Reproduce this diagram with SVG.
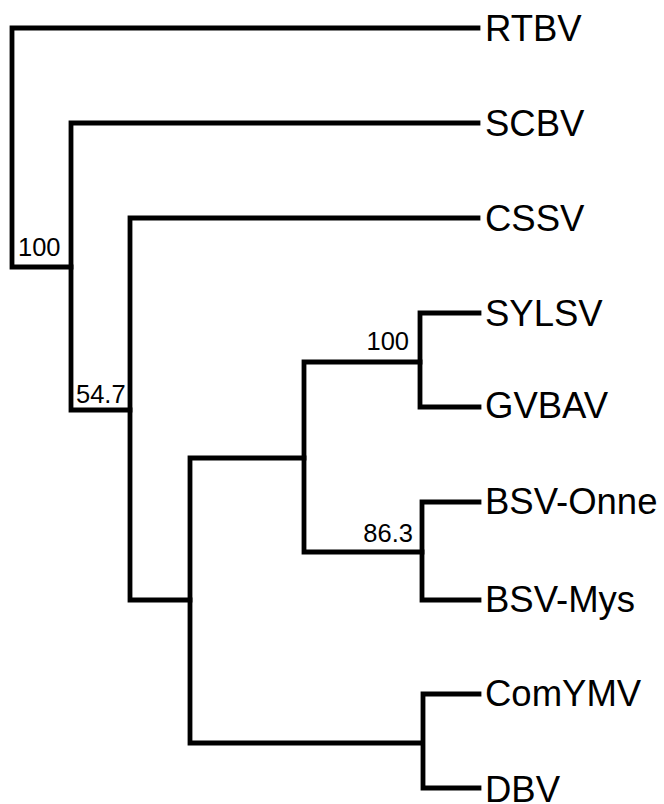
<svg xmlns="http://www.w3.org/2000/svg" width="664" height="804" viewBox="0 0 664 804">
<style>
.br{fill:none;stroke:#000;stroke-width:4.8;stroke-linejoin:miter;stroke-linecap:square}
.tx{font-family:"Liberation Sans",Arial,sans-serif;font-size:36.5px;fill:#000}
.bs{font-family:"Liberation Sans",Arial,sans-serif;font-size:25.5px;fill:#000}
</style>
<rect width="664" height="804" fill="#fff"/>
<g id="connectors">
<path class="br" d="M478,28 H12 V267 H71"/>
<path class="br" d="M478,123 H71 V410 H130"/>
<path class="br" d="M478,218 H130 V600 H190"/>
<path class="br" d="M304,458 H190 V743 H422"/>
<path class="br" d="M420,362 H304 V552 H422"/>
<path class="br" d="M479,313 H420 V407 H479"/>
<path class="br" d="M479,502 H422 V600 H479"/>
<path class="br" d="M479,694 H423 V788 H479"/>
</g>
<g id="n-RTBV"><text class="tx" x="485" y="41">RTBV</text></g>
<g id="n-SCBV"><text class="tx" x="485" y="136">SCBV</text></g>
<g id="n-CSSV"><text class="tx" x="485" y="231">CSSV</text></g>
<g id="n-SYLSV"><text class="tx" x="485" y="326">SYLSV</text></g>
<g id="n-GVBAV"><text class="tx" x="485" y="418">GVBAV</text></g>
<g id="n-BSVOnne"><text class="tx" x="485" y="514">BSV-Onne</text></g>
<g id="n-BSVMys"><text class="tx" x="485" y="612">BSV-Mys</text></g>
<g id="n-ComYMV"><text class="tx" x="485" y="706">ComYMV</text></g>
<g id="n-DBV"><text class="tx" x="485" y="802">DBV</text></g>
<g id="b-root"><text class="bs" x="18" y="256">100</text></g>
<g id="b-547"><text class="bs" x="76" y="403">54.7</text></g>
<g id="b-100"><text class="bs" x="409" y="350" text-anchor="end">100</text></g>
<g id="b-863"><text class="bs" x="413" y="542" text-anchor="end">86.3</text></g>
</svg>
